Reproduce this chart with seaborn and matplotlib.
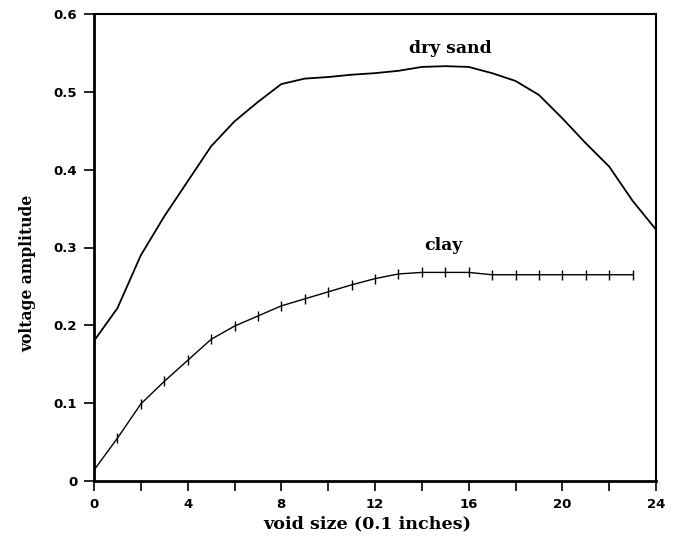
import matplotlib
matplotlib.use("Agg")
import matplotlib.pyplot as plt
import seaborn as sns
import pandas as pd

# ---- data ----
sand_x = list(range(0, 25))
sand_y = [0.180, 0.222, 0.290, 0.340, 0.385, 0.430, 0.462, 0.487, 0.510, 0.517,
          0.519, 0.522, 0.524, 0.527, 0.532, 0.533, 0.532, 0.524, 0.514, 0.496,
          0.466, 0.434, 0.404, 0.360, 0.323]
clay_x = list(range(0, 24))
clay_y = [0.014, 0.055, 0.099, 0.128, 0.155, 0.182, 0.199, 0.212, 0.225, 0.234,
          0.243, 0.252, 0.260, 0.266, 0.268, 0.268, 0.268, 0.265, 0.265, 0.265,
          0.265, 0.265, 0.265, 0.265]
xticks = [0, 4, 8, 12, 16, 20, 24]
xtick_labels = ["0", "4", "8", "12", "16", "20", "24"]
yticks = [0, 0.1, 0.2, 0.3, 0.4, 0.5, 0.6]
ytick_labels = ["0", "0.1", "0.2", "0.3", "0.4", "0.5", "0.6"]

sns.set_style("ticks")
plt.rcParams["font.family"] = ["DejaVu Sans"]
plt.rcParams["text.color"] = "black"
plt.rcParams["axes.labelcolor"] = "black"
plt.rcParams["axes.edgecolor"] = "black"

fig = plt.figure(figsize=(6.78, 5.4), dpi=100)
ax = fig.add_axes([94 / 678, 1 - 481 / 540, (656 - 94) / 678, (481 - 14) / 540])

sand_df = pd.DataFrame({"x": sand_x, "y": sand_y})
clay_df = pd.DataFrame({"x": clay_x, "y": clay_y})
sns.lineplot(data=sand_df, x="x", y="y", ax=ax, color="black", linewidth=1.3)
sns.lineplot(data=clay_df, x="x", y="y", ax=ax, color="black", linewidth=1.0,
             marker="|", markersize=7, markeredgewidth=1.0,
             markeredgecolor="black", markerfacecolor="black")

ax.set_xlim(0, 24)
ax.set_ylim(0, 0.6)
ax.set_xticks(range(0, 25, 2))
ax.set_xticklabels([xtick_labels[xticks.index(t)] if t in xticks else "" for t in range(0, 25, 2)])
ax.set_yticks(yticks)
ax.set_yticklabels(ytick_labels)
ax.tick_params(axis="both", direction="out", length=7, width=1.2, labelsize=9.5,
               colors="black", pad=5)
for lab in ax.get_xticklabels() + ax.get_yticklabels():
    lab.set_fontweight("bold")

for side in ["left", "bottom"]:
    ax.spines[side].set_linewidth(2.0)
for side in ["top", "right"]:
    ax.spines[side].set_visible(True)
    ax.spines[side].set_linewidth(1.5)

ax.set_xlabel("void size (0.1 inches)", fontfamily="DejaVu Serif", fontweight="bold",
              fontsize=12.6)
ax.xaxis.set_label_coords(0.486, -0.074)
ax.set_ylabel("voltage amplitude", fontfamily="DejaVu Serif", fontweight="bold",
              fontsize=11.2)
ax.yaxis.set_label_coords(-0.103, 0.445)

ax.text(15.2, 0.556, "dry sand", fontfamily="DejaVu Serif", fontweight="bold",
        fontsize=12.4, ha="center", va="center")
ax.text(14.94, 0.303, "clay", fontfamily="DejaVu Serif", fontweight="bold",
        fontsize=12.4, ha="center", va="center")

fig.savefig("out.png", dpi=100, facecolor="white")
